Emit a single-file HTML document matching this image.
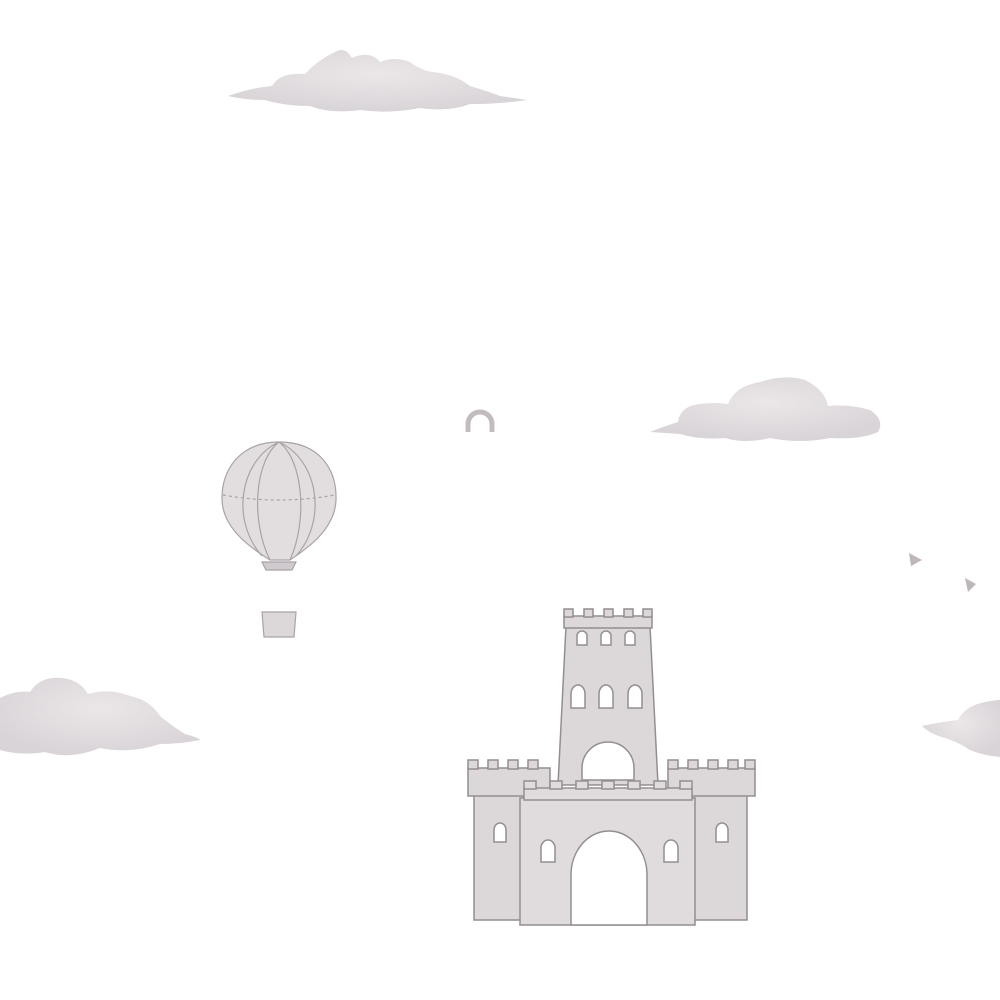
<!DOCTYPE html>
<html><head><style>html,body{margin:0;padding:0;background:#fff}svg{display:block}</style></head>
<body>
<svg width="1000" height="1000" viewBox="0 0 1000 1000" xmlns="http://www.w3.org/2000/svg">
<defs>
<radialGradient id="cg" cx="50%" cy="40%" r="60%"><stop offset="0" stop-color="#ebe7e9"/><stop offset="1" stop-color="#d9d4d7"/></radialGradient>
</defs>
<g fill="url(#cg)">
<path d="M228,96 Q250,88 272,86 Q280,72 305,74 Q318,60 335,52 Q345,46 352,58 Q370,50 380,62 Q395,56 410,62 Q420,70 432,72 Q455,74 470,86 Q490,92 500,96 Q515,98 527,100 Q500,104 470,104 Q450,112 420,108 Q390,114 360,110 Q330,114 310,106 Q285,106 265,100 Q245,100 228,96Z"/>
<path d="M650,432 Q665,426 678,422 Q680,406 700,404 Q715,402 728,404 Q735,386 760,382 Q785,374 805,380 Q825,390 828,406 Q850,404 870,410 Q885,420 878,432 Q860,440 830,438 Q800,444 770,438 Q745,444 725,438 Q700,440 680,434Z"/>
<path d="M0,698 Q15,690 30,692 Q40,676 62,678 Q80,680 88,694 Q110,688 130,696 Q150,700 160,716 Q172,726 185,734 Q200,738 200,740 Q180,744 160,744 Q130,754 100,748 Q70,760 45,752 Q20,756 0,750Z"/>
<path d="M922,726 Q940,722 958,720 Q965,706 985,702 Q995,700 1000,700 L1000,757 Q985,756 970,750 Q958,742 945,738 Q930,734 922,726Z"/>
</g>
<path d="M468,432 V424 A12,12 0 0 1 492,424 V432" fill="none" stroke="#c2bcbf" stroke-width="5"/>
<polygon points="909,553 922,560 911,566" fill="#bdb7ba"/>
<polygon points="965,578 976,584 968,592" fill="#bdb7ba"/>
<g stroke="#a9a3a6" stroke-width="1.2">
<path d="M279,442 C320,442 337,470 336,500 C335,530 305,550 290,560 L270,560 C254,550 223,530 222,500 C221,470 240,442 279,442Z" fill="#e2dee0"/>
<path d="M279,442 C255,460 250,520 270,560 M279,442 C303,460 308,520 290,560 M279,442 C240,460 230,520 262,556 M279,442 C318,460 328,520 296,556" fill="none"/>
<path d="M223,495 Q279,505 335,495" fill="none" stroke-dasharray="3,3"/>
<path d="M262,562 L296,562 L292,570 L266,570Z" fill="#d0cbce"/>
<path d="M262,612 L296,612 L294,637 L264,637Z" fill="#dcd8da"/>
</g>
<g stroke="#948e91" stroke-width="1.5" fill="#dcd8da">
<!-- central tower -->
<path d="M566,626 L558,785 L658,785 L650,626Z"/>
<rect x="564" y="616" width="88" height="12"/>
<rect x="564" y="609" width="9" height="8"/><rect x="584" y="609" width="9" height="8"/><rect x="604" y="609" width="9" height="8"/><rect x="624" y="609" width="9" height="8"/><rect x="643" y="609" width="9" height="8"/>
<!-- left tower -->
<rect x="474" y="795" width="50" height="125"/>
<rect x="468" y="768" width="82" height="28"/>
<rect x="468" y="760" width="10" height="9"/><rect x="488" y="760" width="10" height="9"/><rect x="508" y="760" width="10" height="9"/><rect x="528" y="760" width="10" height="9"/>
<!-- right tower -->
<rect x="692" y="795" width="55" height="125"/>
<rect x="668" y="768" width="87" height="28"/>
<rect x="668" y="760" width="10" height="9"/><rect x="688" y="760" width="10" height="9"/><rect x="708" y="760" width="10" height="9"/><rect x="728" y="760" width="10" height="9"/><rect x="745" y="760" width="10" height="9"/>
<!-- middle wall -->
<rect x="520" y="798" width="175" height="127" fill="#e0dcde"/>
<rect x="524" y="788" width="168" height="12" fill="#e0dcde"/>
<g fill="#e0dcde"><rect x="524" y="781" width="12" height="8"/><rect x="550" y="781" width="12" height="8"/><rect x="576" y="781" width="12" height="8"/><rect x="602" y="781" width="12" height="8"/><rect x="628" y="781" width="12" height="8"/><rect x="654" y="781" width="12" height="8"/><rect x="680" y="781" width="12" height="8"/></g>
<path d="M571,925 v-50 a38,44 0 0 1 76,0 v50Z" fill="#fff"/>
<path d="M582,780 v-12 a26,26 0 0 1 52,0 v12Z" fill="#fff"/>
<g fill="#fff">
<path d="M577,645 v-9 a5,5 0 0 1 10,0 v9Z"/><path d="M601,645 v-9 a5,5 0 0 1 10,0 v9Z"/><path d="M625,645 v-9 a5,5 0 0 1 10,0 v9Z"/>
<path d="M571,708 v-14 a7,9 0 0 1 14,0 v14Z"/><path d="M599,708 v-14 a7,9 0 0 1 14,0 v14Z"/><path d="M628,708 v-14 a7,9 0 0 1 14,0 v14Z"/>
<path d="M494,842 v-12 a6,7 0 0 1 12,0 v12Z"/><path d="M716,842 v-12 a6,7 0 0 1 12,0 v12Z"/>
<path d="M541,862 v-14 a7,8 0 0 1 14,0 v14Z"/><path d="M664,862 v-14 a7,8 0 0 1 14,0 v14Z"/>
</g>
</g>
</svg>
</body></html>
